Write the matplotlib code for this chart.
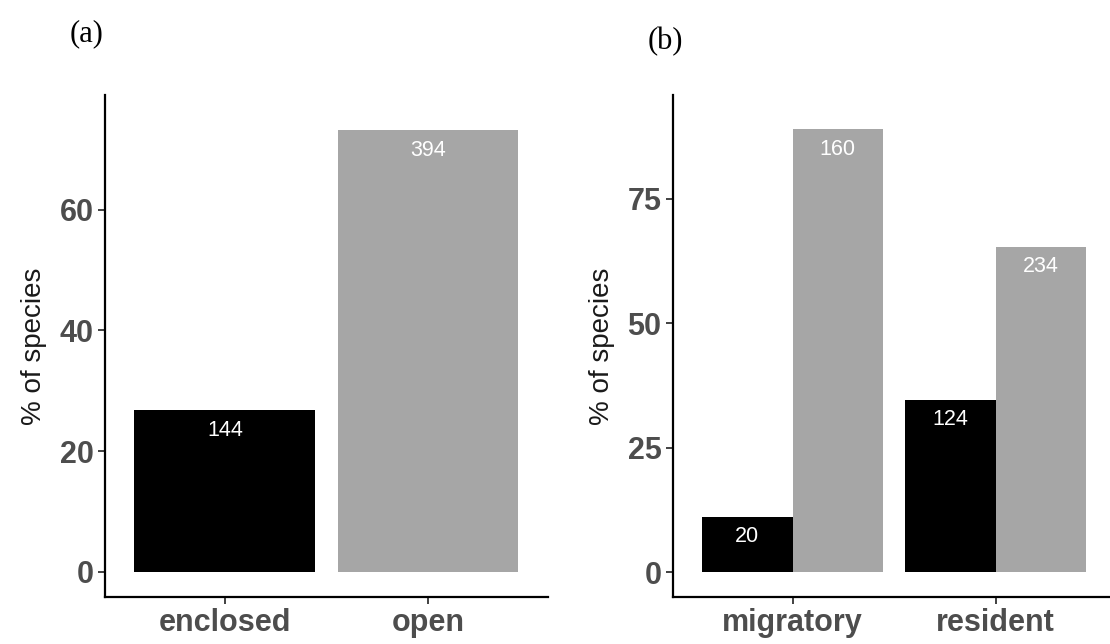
import numpy as np
import matplotlib
matplotlib.use('Agg')
import matplotlib.pyplot as plt

# panel (a): nest type
nest_types = ['enclosed', 'open']
nest_counts = [144, 394]

# panel (b): migratory status, split by nest type (enclosed / open)
status = ['migratory', 'resident']
enclosed_counts = [20, 124]
open_counts = [160, 234]

BLACK = '#000000'
GREY = '#a6a6a6'
TICK_COL = '#4d4d4d'

plt.rcParams['font.family'] = ['Liberation Sans', 'DejaVu Sans']

fig = plt.figure(figsize=(11.1, 6.44), dpi=100)
ax_a = fig.add_axes([0.0946, 0.073, 0.399, 0.7795])
ax_b = fig.add_axes([0.606, 0.073, 0.399, 0.7795])


def style_axis(ax, yticks):
    for side in ['top', 'right']:
        ax.spines[side].set_visible(False)
    for side in ['left', 'bottom']:
        ax.spines[side].set_linewidth(1.6)
        ax.spines[side].set_color('black')
    ax.set_yticks(yticks)
    ax.tick_params(axis='both', length=5, width=1.3, color='#333333',
                   labelsize=22, labelcolor=TICK_COL, pad=3)
    for lab in ax.get_xticklabels() + ax.get_yticklabels():
        lab.set_fontweight('bold')
    ax.set_ylabel('% of species', fontsize=20, color='#1a1a1a', labelpad=9)


def label_bars(ax, xs, heights, counts):
    for x, p, n in zip(xs, heights, counts):
        ax.annotate(str(n), (x, p), xytext=(0, -7), textcoords='offset points',
                    ha='center', va='top', color='white', fontsize=15.5)


# ---- (a)
pct_a = np.array(nest_counts) / sum(nest_counts) * 100
xa = np.arange(len(nest_types))
ax_a.bar(xa, pct_a, width=0.89, color=[BLACK, GREY])
label_bars(ax_a, xa, pct_a, nest_counts)
ax_a.set_xlim(-0.59, 1.59)
ax_a.set_ylim(-4.15, 79)
ax_a.set_xticks(xa)
ax_a.set_xticklabels(nest_types)
style_axis(ax_a, [0, 20, 40, 60])

# ---- (b)
enc = np.array(enclosed_counts)
opn = np.array(open_counts)
tot = enc + opn
pct_enc = enc / tot * 100
pct_opn = opn / tot * 100
xb = np.arange(len(status))
w = 0.445
ax_b.bar(xb - w / 2, pct_enc, width=w, color=BLACK)
ax_b.bar(xb + w / 2, pct_opn, width=w, color=GREY)
label_bars(ax_b, xb - w / 2, pct_enc, enclosed_counts)
label_bars(ax_b, xb + w / 2, pct_opn, open_counts)
ax_b.set_xlim(-0.59, 1.59)
ax_b.set_ylim(-5.0, 95.8)
ax_b.set_xticks(xb)
ax_b.set_xticklabels(status)
style_axis(ax_b, [0, 25, 50, 75])

# panel letters
fig.text(0.063, 0.947, '(a)', fontsize=22, family='Liberation Serif',
         ha='left', va='center')
fig.text(0.583, 0.935, '(b)', fontsize=22, family='Liberation Serif',
         ha='left', va='center')

fig.savefig('out.png', dpi=100)
